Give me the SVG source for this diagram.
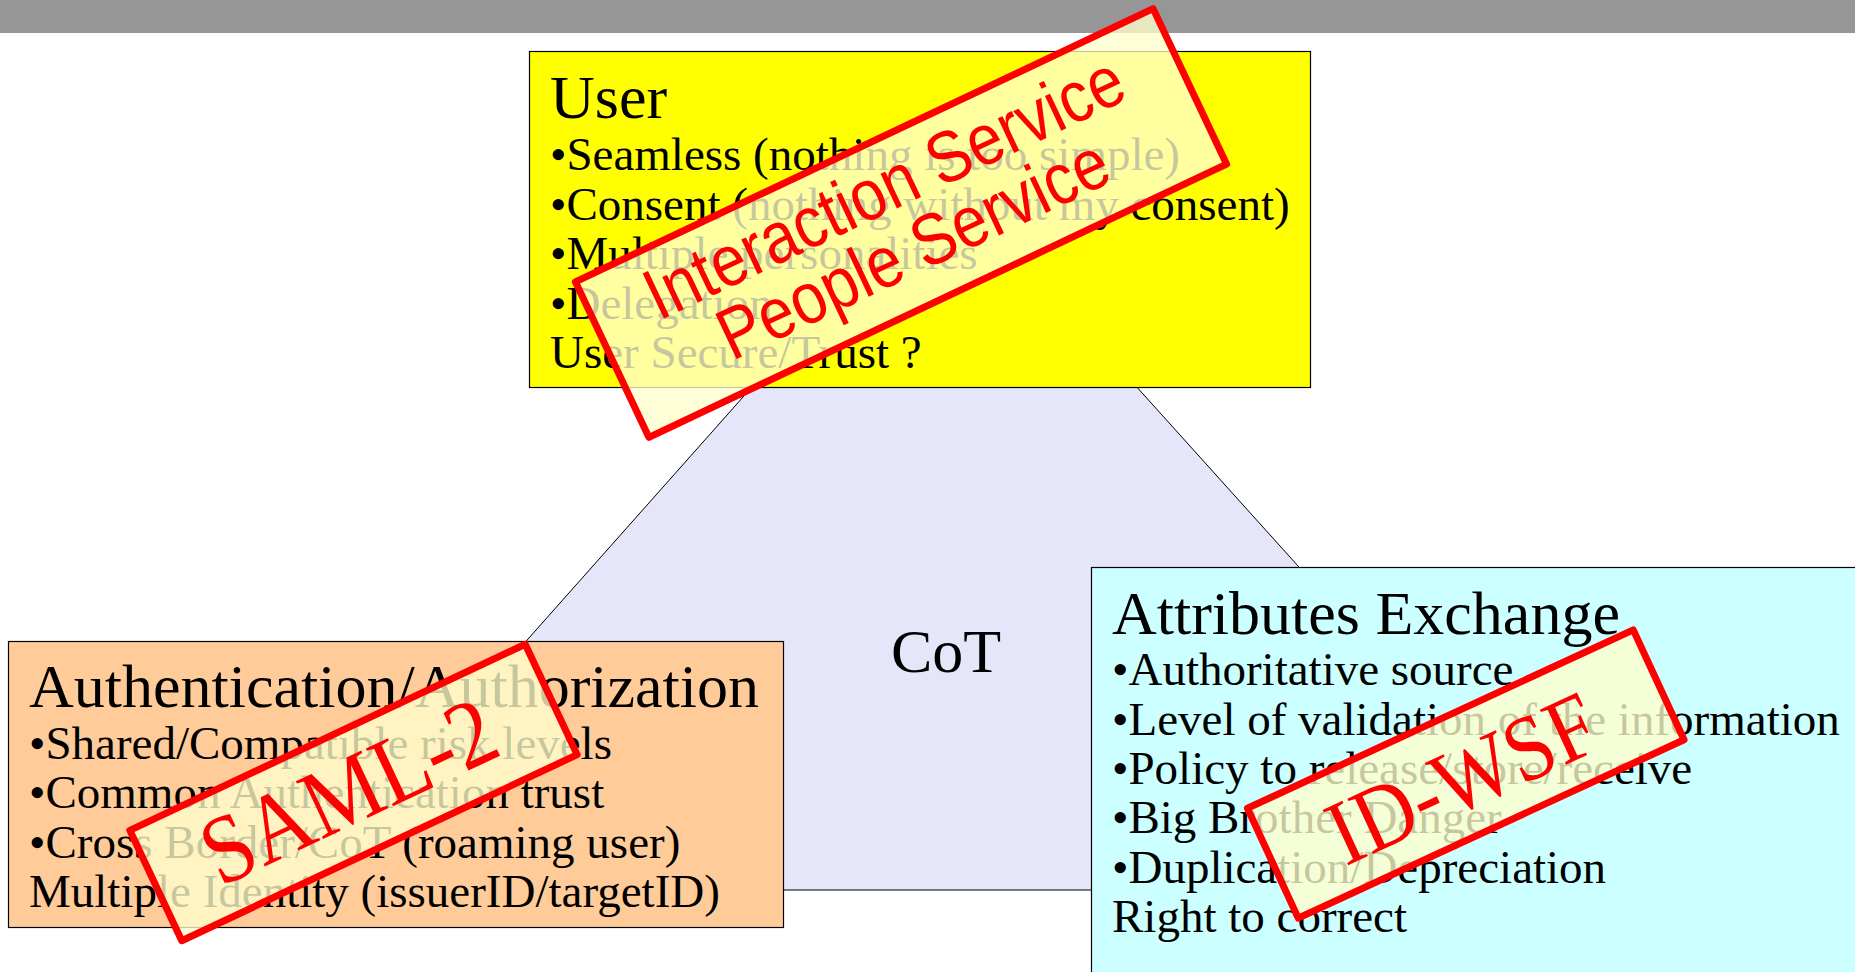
<svg xmlns="http://www.w3.org/2000/svg" width="1855" height="972" viewBox="0 0 1855 972">
  <style>
    .box { stroke: #000; stroke-width: 1.2; }
    .head { font-family: "Liberation Serif", "Times New Roman", serif; font-size: 62px; fill: #000; }
    .item { font-family: "Liberation Serif", "Times New Roman", serif; font-size: 47px; fill: #000; }
    .stamp-frame { fill: #ffffcc; fill-opacity: 0.78; stroke: #ff0000; stroke-width: 7; stroke-linejoin: round; }
    .stamp-sans { font-family: "Liberation Sans", Arial, sans-serif; font-size: 63px; fill: #ff0000; text-anchor: middle; }
    .stamp-serif { font-family: "Liberation Serif", "Times New Roman", serif; fill: #ff0000; text-anchor: middle; }
  </style>

  <rect width="1855" height="972" fill="#ffffff"/>

  <!-- title bar -->
  <rect id="title-bar" x="0" y="0" width="1855" height="33" fill="#969696"/>

  <!-- circle of trust in the middle -->
  <g id="node-cot">
    <polygon points="943,172 305,890 1590,890" fill="#e6e6fa" stroke="#000" stroke-width="1"/>
    <text x="946" y="672" class="head" text-anchor="middle">CoT</text>
  </g>

  <g id="connectors"></g>

  <!-- user requirements -->
  <g id="node-user">
    <rect class="box" x="529.5" y="51.5" width="781" height="336" fill="#ffff00"/>
    <text x="550" y="118" class="head">User</text>
    <text x="550" y="170" class="item">•Seamless (nothing is too simple)</text>
    <text x="550" y="219.5" class="item">•Consent (nothing without my consent)</text>
    <text x="550" y="269" class="item">•Multiple personalities</text>
    <text x="550" y="318.5" class="item">•Delegation</text>
    <text x="550" y="368" class="item">User Secure/Trust ?</text>
  </g>

  <!-- authentication / authorization -->
  <g id="node-auth">
    <rect class="box" x="8.5" y="641.5" width="775" height="286" fill="#ffcc99"/>
    <text x="29" y="707" class="head">Authentication/Authorization</text>
    <text x="29" y="758.5" class="item">•Shared/Compatible risk levels</text>
    <text x="29" y="808" class="item">•Common Authentication trust</text>
    <text x="29" y="857.5" class="item">•Cross Border/CoT (roaming user)</text>
    <text x="29" y="907" class="item">Multiple Identity (issuerID/targetID)</text>
  </g>

  <!-- attributes exchange -->
  <g id="node-attr">
    <rect class="box" x="1091.5" y="567.5" width="780" height="420" fill="#ccffff"/>
    <text x="1112" y="634" class="head">Attributes Exchange</text>
    <text x="1112" y="685" class="item">•Authoritative source</text>
    <text x="1112" y="734.5" class="item">•Level of validation of the information</text>
    <text x="1112" y="784" class="item">•Policy to release/store/receive</text>
    <text x="1112" y="833" class="item">•Big Brother Danger</text>
    <text x="1112" y="882.5" class="item">•Duplication/Depreciation</text>
    <text x="1112" y="932" class="item">Right to correct</text>
  </g>

  <!-- protocol stamps; lettering is drawn slightly tall (scaled across the baseline) -->
  <g id="stamp-user" transform="translate(901 223) rotate(-25.3)">
    <rect class="stamp-frame" x="-319.5" y="-86" width="639" height="172"/>
    <g transform="scale(1 1.15)">
      <text class="stamp-sans" x="0" y="-13">Interaction Service</text>
      <text class="stamp-sans" x="0" y="46">People Service</text>
    </g>
  </g>

  <g id="stamp-auth" transform="translate(353.5 792.5) rotate(-25.2)">
    <rect class="stamp-frame" x="-218.5" y="-61" width="437" height="122"/>
    <g transform="scale(1 1.12)">
      <text class="stamp-serif" x="-4" y="26" font-size="87">SAML-2</text>
    </g>
  </g>

  <g id="stamp-attr" transform="translate(1465.75 774) rotate(-24.8)">
    <rect class="stamp-frame" x="-212.5" y="-60.5" width="425" height="121"/>
    <g transform="scale(1 1.12)">
      <text class="stamp-serif" x="-5" y="30" font-size="83">ID-WSF</text>
    </g>
  </g>
</svg>
